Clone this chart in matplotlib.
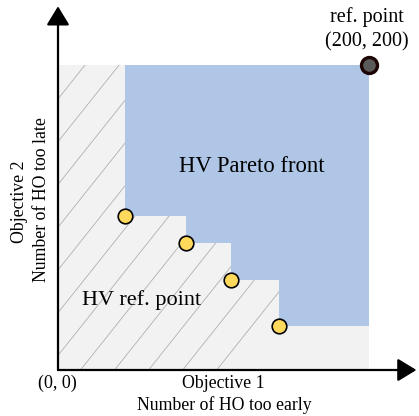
import numpy as np
import matplotlib
matplotlib.use("Agg")
import matplotlib.pyplot as plt
from matplotlib.patches import Rectangle, Polygon
from matplotlib.lines import Line2D

# ---- data ----
ref_point = (200, 200)
pareto_x = [43, 82, 111, 142]
pareto_y = [101, 83, 59, 29]
ref_label = ["ref. point", "(200, 200)"]
origin_label = "(0, 0)"
x_labels = ["Objective 1", "Number of HO too early"]
y_labels = ["Objective 2", "Number of HO too late"]
region_labels = ["HV Pareto front", "HV ref. point"]

W, H = 419, 416
fig = plt.figure(figsize=(W / 100, H / 100), dpi=100)
plt.rcParams['font.family'] = ['Liberation Serif', 'DejaVu Serif']

# axes: data (0..200) mapped to pixel box
L, R, T, B = 58, 369, 65, 370
ax = fig.add_axes([L / W, 1 - B / H, (R - L) / W, (B - T) / H])
ax.set_xlim(0, ref_point[0])
ax.set_ylim(0, ref_point[1])
ax.axis("off")

# gray dominated-by-ref region
gray = Rectangle((0, 0), ref_point[0], ref_point[1], facecolor="#f2f2f2",
                 edgecolor="none", zorder=1)
ax.add_patch(gray)

# hatch lines clipped to gray rectangle
slope = 1.28
for x0 in np.arange(17.4 - 21.9 * 12, 260, 21.9):
    ys = np.array([-10, 220])
    xs = x0 + (ys - 200) / slope
    ln = Line2D(xs, ys, color="#b0b0b0", lw=0.6, zorder=2)
    ax.add_line(ln)
    ln.set_clip_path(gray)

# blue staircase region (dominated by pareto points, bounded by ref point)
verts = [(pareto_x[0], ref_point[1])]
for i, (px, py) in enumerate(zip(pareto_x, pareto_y)):
    verts.append((px, py))
    nx = pareto_x[i + 1] if i + 1 < len(pareto_x) else ref_point[0]
    verts.append((nx, py))
verts.append(ref_point)
ax.add_patch(Polygon(verts, closed=True, facecolor="#b0c6e7", edgecolor="none", zorder=3))

# pareto points
ax.plot(pareto_x, pareto_y, "o", ms=10.5, mfc="#ffd95c", mec="black", mew=1.2,
        zorder=5, clip_on=False)
# ref point
ax.plot([ref_point[0]], [ref_point[1]], "o", ms=11.5, mfc="#5a5a5a", mec="#1e0505",
        mew=2.4, zorder=6, clip_on=False)

# axes arrows
arrow_kw = dict(arrowstyle="-|>,head_length=1.15,head_width=0.7", lw=1.6,
                color="black", mutation_scale=10, shrinkA=0, shrinkB=0)
ax.annotate("", xy=(0, 238.5), xytext=(0, 0), arrowprops=arrow_kw,
            annotation_clip=False, zorder=7)
ax.annotate("", xy=(230.5, 0), xytext=(0, 0), arrowprops=arrow_kw,
            annotation_clip=False, zorder=7)

def ftext(x, y, s, size, **kw):
    fig.text(x / W, 1 - y / H, s, fontsize=size, ha="center", va="center", **kw)

ftext(367, 17, ref_label[0], 14.5)
ftext(367, 42, ref_label[1], 14.5)
ftext(252, 167, region_labels[0], 16.3)
ftext(142, 300, region_labels[1], 16)
ftext(57, 383, origin_label, 13)
ftext(223, 383, x_labels[0], 12.8)
ftext(224, 405, x_labels[1], 12.8)
ftext(19, 202, y_labels[0], 12.8, rotation=90)
ftext(41, 200, y_labels[1], 12.8, rotation=90)

fig.savefig("out.png", dpi=100)
